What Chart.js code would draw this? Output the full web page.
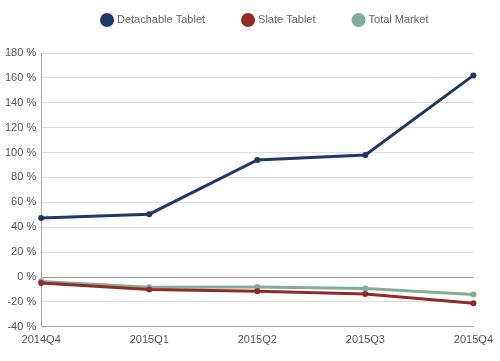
<!DOCTYPE html>
<html>
<head>
<meta charset="utf-8">
<script src="https://cdn.jsdelivr.net/npm/chart.js@4"></script>
<style>
  body { margin: 0; background: #fff; }
  #wrap { width: 500px; height: 361px; }
</style>
</head>
<body>
<div id="wrap"><canvas id="chart"></canvas></div>
<script>
// quarters on the x axis
const quarters = ['2014Q4', '2015Q1', '2015Q2', '2015Q3', '2015Q4'];
// year-over-year growth, percent
const detachable = [47.5, 50.5, 94, 98, 162];
const slate = [-4.8, -10, -11.5, -13.6, -21];
const totalMarket = [-3.5, -8.3, -8, -9.3, -14];
const yMin = -40;
const yMax = 180;
const yStep = 20;

const fontFamily = '"Liberation Sans", Arial, sans-serif';
Chart.defaults.font.family = fontFamily;
Chart.defaults.font.size = 11;
Chart.defaults.color = '#555';

function series(label, data, color) {
  return {
    label: label,
    data: data,
    borderColor: color,
    backgroundColor: color,
    borderWidth: 3,
    pointRadius: 3,
    pointBorderWidth: 0,
    pointHoverRadius: 4,
    tension: 0,
  };
}

// legend drawn by hand so the spacing matches: circle, then label
const topLegend = {
  id: 'topLegend',
  afterDraw(chart) {
    const c = chart.ctx;
    c.save();
    c.font = '11px ' + fontFamily;
    c.textBaseline = 'middle';
    let x = 100;
    const y = 20;
    chart.data.datasets.forEach(ds => {
      c.fillStyle = ds.borderColor;
      c.beginPath();
      c.arc(x + 7, y, 7, 0, Math.PI * 2);
      c.fill();
      c.fillStyle = '#666';
      c.fillText(ds.label, x + 17, y);
      x += 17 + c.measureText(ds.label).width + 36;
    });
    c.restore();
  }
};

const ctx = document.getElementById('chart').getContext('2d');
const chart = new Chart(ctx, {
  type: 'line',
  data: {
    labels: quarters,
    datasets: [
      series('Detachable Tablet', detachable, '#1f3864'),
      series('Slate Tablet', slate, '#922b26'),
      series('Total Market', totalMarket, '#82ae97'),
    ]
  },
  plugins: [topLegend],
  options: {
    responsive: true,
    maintainAspectRatio: false,
    animation: false,
    layout: { padding: { left: 0, right: 6, top: 53, bottom: 7 } },
    plugins: {
      legend: { display: false },
      tooltip: { enabled: false },
    },
    scales: {
      x: {
        offset: false,
        grid: { display: false, drawTicks: false },
        border: { color: '#aaa' },
        ticks: { padding: 7, maxRotation: 0, color: '#555' },
      },
      y: {
        min: yMin,
        max: yMax,
        grid: {
          drawTicks: false,
          color: c => (c.tick && c.tick.value === 0 ? '#999' : '#ddd'),
        },
        border: { color: '#aaa' },
        ticks: {
          stepSize: yStep,
          padding: 5,
          color: '#555',
          callback: v => v + ' %',
        },
      }
    }
  }
});
</script>
</body>
</html>
